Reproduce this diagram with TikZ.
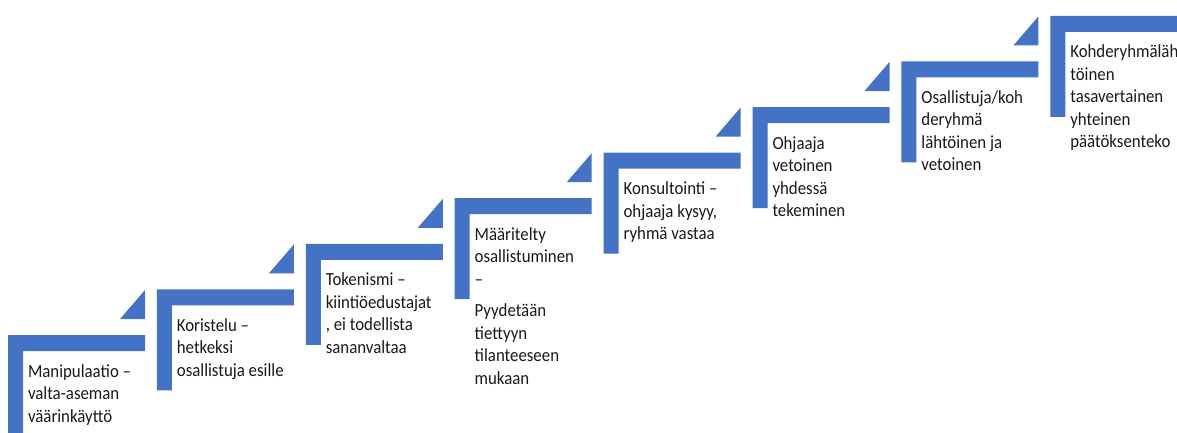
\documentclass[tikz,border=0pt]{standalone}
\usepackage{fontspec}
\setmainfont{Carlito}[FakeStretch=0.91]
\definecolor{stepblue}{HTML}{4472C4}
\begin{document}
\begin{tikzpicture}[x=1pt,y=-1pt,inner sep=0pt,outer sep=0pt,
stepbar/.style={fill=stepblue,draw=none},
steptext/.style={anchor=north west,align=left,text=black!90,font=\fontsize{18.5}{22.5}\selectfont}]
\useasboundingbox (0,0) rectangle (1177,432);
\clip (0,0) rectangle (1177,432);
\foreach \i/\txt in {
 0/{Manipulaatio --\\valta-aseman\\väärinkäyttö},
 1/{Koristelu --\\hetkeksi\\osallistuja esille},
 2/{Tokenismi --\\kiintiöedustajat\\, ei todellista\\sananvaltaa},
 3/{Määritelty\\osallistuminen\\--\\[9pt]Pyydetään\\tiettyyn\\tilanteeseen\\mukaan},
 4/{Konsultointi --\\ohjaaja kysyy,\\ryhmä vastaa},
 5/{Ohjaaja\\vetoinen\\yhdessä\\tekeminen},
 6/{Osallistuja/koh\\deryhmä\\lähtöinen ja\\vetoinen},
 7/{Kohderyhmäläh\\töinen\\tasavertainen\\yhteinen\\päätöksenteko}}
{
\pgfmathsetmacro\L{8+148.9*\i}
\pgfmathsetmacro\T{335-45.6*\i}
% corner bar
\fill[stepbar] (\L,\T+101) -- (\L,\T) -- (\L+137,\T) -- (\L+137,\T+16)
  -- (\L+15,\T+16) -- (\L+15,\T+101) -- cycle;
% small wedge over the bar end
\fill[stepbar] (\L+112,\T-16) -- (\L+137,\T-16) -- (\L+137,\T-45) -- cycle;
\draw (\L+20,\T+26.25) node[steptext] (step\i) {\strut\txt};
}
\end{tikzpicture}
\end{document}
